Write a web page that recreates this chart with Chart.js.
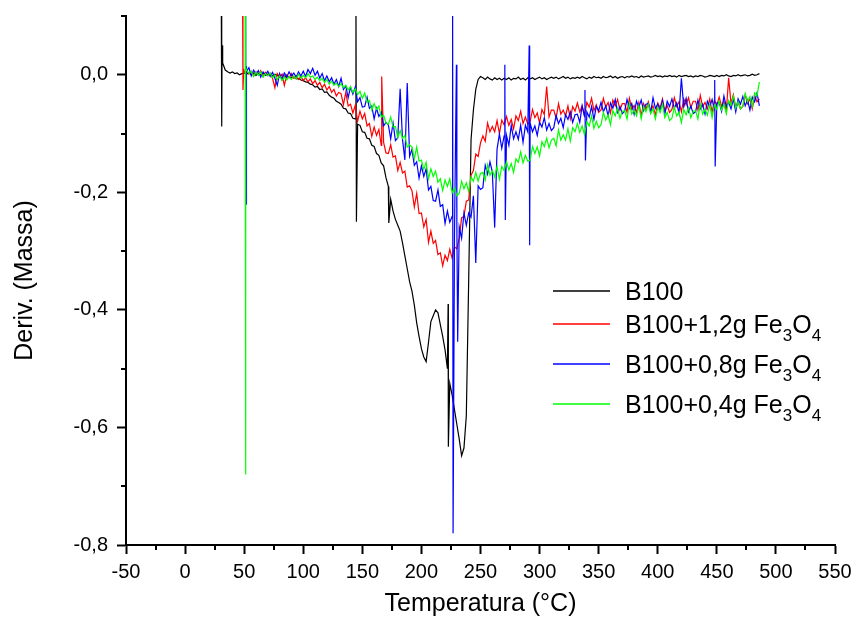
<!DOCTYPE html>
<html>
<head>
<meta charset="utf-8">
<title>DTG - B100 e Fe3O4</title>
<script src="https://cdn.jsdelivr.net/npm/chart.js@4.4.0/dist/chart.umd.min.js"></script>
<style>
  html, body { margin: 0; padding: 0; background: #fff; }
  #wrap { width: 856px; height: 619px; }
</style>
</head>
<body>
<div id="wrap"><canvas id="dtgChart" width="856" height="619"></canvas></div>
<script>
// Temperature grid (°C) shared by the four curves
const temps = [
  32, 34, 36, 38, 40, 42, 44, 46, 48, 50,
  52, 54, 56, 58, 60, 62, 64, 66, 68, 70,
  72, 74, 76, 78, 80, 82, 84, 86, 88, 90,
  92, 94, 96, 98, 100, 102, 104, 106, 108, 110,
  112, 114, 116, 118, 120, 122, 124, 126, 128, 130,
  132, 134, 136, 138, 140, 142, 144, 146, 148, 150,
  152, 154, 156, 158, 160, 162, 164, 166, 168, 170,
  172, 174, 176, 178, 180, 182, 184, 186, 188, 190,
  192, 194, 196, 198, 200, 202, 204, 206, 208, 210,
  212, 214, 216, 218, 220, 222, 224, 226, 228, 230,
  232, 234, 236, 238, 240, 242, 244, 246, 248, 250,
  252, 254, 256, 258, 260, 262, 264, 266, 268, 270,
  272, 274, 276, 278, 280, 282, 284, 286, 288, 290,
  292, 294, 296, 298, 300, 302, 304, 306, 308, 310,
  312, 314, 316, 318, 320, 322, 324, 326, 328, 330,
  332, 334, 336, 338, 340, 342, 344, 346, 348, 350,
  352, 354, 356, 358, 360, 362, 364, 366, 368, 370,
  372, 374, 376, 378, 380, 382, 384, 386, 388, 390,
  392, 394, 396, 398, 400, 402, 404, 406, 408, 410,
  412, 414, 416, 418, 420, 422, 424, 426, 428, 430,
  432, 434, 436, 438, 440, 442, 444, 446, 448, 450,
  452, 454, 456, 458, 460, 462, 464, 466, 468, 470,
  472, 474, 476, 478, 480, 482, 484, 486
];

// Deriv. (Massa) on the grid above
const b100 = [
  0.02, 0.008, 0.005, 0.003, 0.005, 0.002, 0.003, 0.0, 0.002, 0.003,
  0.001, 0.004, 0.0, 0.003, -0.001, 0.002, 0.0, 0.003, -0.001, 0.001,
  0.0, -0.002, 0.001, -0.001, -0.003, 0.0, -0.002, -0.004, -0.003, -0.005,
  -0.004, -0.007, -0.006, -0.009, -0.01, -0.012, -0.013, -0.016, -0.017, -0.021,
  -0.02, -0.025, -0.024, -0.03, -0.029, -0.035, -0.038, -0.04, -0.045, -0.047,
  -0.05, -0.057, -0.058, -0.065, -0.066, -0.074, -0.075, -0.084, -0.086, -0.097,
  -0.098, -0.108, -0.109, -0.12, -0.122, -0.134, -0.137, -0.15, -0.155, -0.175,
  -0.19, -0.212, -0.232, -0.246, -0.256, -0.266, -0.286, -0.308, -0.33, -0.352,
  -0.368, -0.392, -0.422, -0.445, -0.466, -0.48, -0.488, -0.455, -0.42, -0.41,
  -0.4, -0.405, -0.425, -0.445, -0.468, -0.5, -0.525, -0.545, -0.57, -0.595,
  -0.62, -0.648, -0.635, -0.58, -0.35, -0.11, -0.06, -0.025, -0.008, -0.003,
  -0.005, -0.008, -0.004, -0.007, -0.009, -0.005, -0.008, -0.006, -0.009, -0.006,
  -0.008, -0.005, -0.009, -0.006, -0.007, -0.004, -0.008, -0.006, -0.009, -0.005,
  -0.007, -0.005, -0.008, -0.006, -0.004, -0.007, -0.005, -0.008, -0.006, -0.004,
  -0.006, -0.004, -0.007, -0.005, -0.003, -0.006, -0.004, -0.007, -0.005, -0.006,
  -0.004, -0.006, -0.003, -0.005, -0.007, -0.004, -0.006, -0.003, -0.005, -0.004,
  -0.006, -0.003, -0.005, -0.004, -0.002, -0.005, -0.003, -0.006, -0.004, -0.003,
  -0.005, -0.003, -0.004, -0.002, -0.004, -0.003, -0.005, -0.002, -0.004, -0.003,
  -0.002, -0.004, -0.003, -0.001, -0.003, -0.002, -0.004, -0.002, -0.003, -0.001,
  -0.003, -0.002, -0.004, -0.001, -0.003, -0.002, -0.001, -0.003, -0.002, -0.004,
  -0.002, -0.003, -0.001, -0.002, -0.004, -0.003, -0.001, -0.002, -0.003, -0.001,
  -0.003, -0.001, -0.002, 0.0, -0.002, -0.003, -0.001, -0.002, 0.0, -0.002,
  -0.001, 0.0, -0.002, -0.001, 0.001, -0.001, 0.0, 0.002
];

const fe12 = [
  null, null, null, null, null, null, null, null, null, 0.004,
  0.008, 0.001, 0.006, -0.002, 0.005, 0.0, 0.007, -0.003, 0.004, -0.001,
  0.003, -0.006, -0.022, 0.002, -0.004, 0.001, -0.018, 0.0, -0.005, 0.002,
  -0.006, -0.002, -0.008, -0.003, -0.01, -0.005, -0.012, -0.007, -0.015, -0.01,
  -0.018, -0.013, -0.022, -0.016, -0.026, -0.02, -0.03, -0.025, -0.036, -0.03,
  -0.032, -0.051, -0.03, -0.053, -0.05, -0.065, -0.052, -0.079, -0.062, -0.075,
  -0.066, -0.087, -0.083, -0.105, -0.089, -0.103, -0.093, -0.12, -0.115, -0.133,
  -0.134, -0.119, -0.14, -0.138, -0.163, -0.149, -0.167, -0.164, -0.191, -0.189,
  -0.197, -0.225, -0.202, -0.236, -0.235, -0.259, -0.246, -0.285, -0.266, -0.287,
  -0.282, -0.306, -0.303, -0.325, -0.307, -0.316, -0.297, -0.312, -0.293, -0.296,
  -0.278, -0.243, -0.241, -0.215, -0.213, -0.171, -0.163, -0.135, -0.139, -0.116,
  -0.104, -0.113, -0.082, -0.097, -0.088, -0.097, -0.078, -0.1, -0.077, -0.085,
  -0.071, -0.086, -0.076, -0.092, -0.07, -0.078, -0.062, -0.083, -0.072, -0.084,
  -0.08, -0.059, -0.073, -0.065, -0.082, -0.059, -0.068, -0.02, -0.072, -0.06,
  -0.06, -0.074, -0.049, -0.067, -0.06, -0.07, -0.053, -0.075, -0.054, -0.062,
  -0.048, -0.063, -0.053, -0.069, -0.047, -0.055, -0.04, -0.061, -0.051, -0.064,
  -0.06, -0.04, -0.055, -0.047, -0.065, -0.043, -0.053, -0.042, -0.06, -0.049,
  -0.049, -0.064, -0.04, -0.059, -0.052, -0.064, -0.047, -0.07, -0.049, -0.059,
  -0.046, -0.062, -0.053, -0.069, -0.048, -0.056, -0.041, -0.062, -0.052, -0.064,
  -0.059, -0.039, -0.054, -0.046, -0.063, -0.041, -0.051, -0.039, -0.056, -0.045,
  -0.045, -0.06, -0.035, -0.054, -0.047, -0.058, -0.041, -0.064, -0.043, -0.052,
  -0.038, -0.054, -0.045, -0.062, -0.005, -0.049, -0.034, -0.056, -0.046, -0.058,
  -0.054, -0.034, -0.049, -0.041, -0.058, -0.036, -0.046, -0.041
];

const fe08 = [
  null, null, null, null, null, null, null, null, null, null,
  0.006, 0.012, -0.002, 0.008, 0.001, 0.007, -0.004, 0.005, 0.0, 0.006,
  -0.003, 0.004, -0.006, -0.018, 0.002, -0.008, 0.003, -0.004, 0.005, -0.002,
  0.003, -0.004, 0.005, -0.002, 0.006, -0.003, 0.009, 0.002, 0.011, -0.001,
  0.006, -0.006, 0.002, -0.01, -0.002, -0.012, -0.005, -0.016, -0.008, -0.02,
  -0.006, -0.025, -0.019, -0.039, -0.021, -0.033, -0.021, -0.046, -0.039, -0.055,
  -0.054, -0.038, -0.057, -0.053, -0.075, -0.057, -0.071, -0.064, -0.087, -0.081,
  -0.085, -0.109, -0.082, -0.112, -0.107, -0.024, -0.11, -0.145, -0.014, -0.139,
  -0.127, -0.154, -0.148, -0.176, -0.155, -0.173, -0.16, -0.196, -0.19, -0.214,
  -0.215, -0.196, -0.224, -0.221, -0.253, -0.232, -0.251, -0.241, -0.269, -0.259,
  -0.259, -0.278, -0.235, -0.256, -0.235, -0.242, -0.206, -0.32, -0.189, -0.195,
  -0.192, -0.154, -0.169, -0.148, -0.165, -0.26, -0.127, -0.101, -0.125, -0.104,
  -0.103, -0.12, -0.086, -0.109, -0.097, -0.11, -0.086, -0.115, -0.086, -0.097,
  -0.082, -0.097, -0.087, -0.103, -0.081, -0.089, -0.073, -0.094, -0.083, -0.095,
  -0.09, -0.069, -0.083, -0.074, -0.09, -0.068, -0.076, -0.063, -0.081, -0.068,
  -0.067, -0.081, -0.053, -0.071, -0.063, -0.072, -0.054, -0.076, -0.054, -0.061,
  -0.047, -0.063, -0.053, -0.07, -0.048, -0.057, -0.042, -0.064, -0.054, -0.066,
  -0.062, -0.042, -0.057, -0.049, -0.067, -0.045, -0.055, -0.043, -0.061, -0.05,
  -0.049, -0.064, -0.039, -0.057, -0.05, -0.061, -0.044, -0.067, -0.045, -0.054,
  -0.041, -0.057, -0.048, -0.066, -0.006, -0.055, -0.04, -0.063, -0.053, -0.066,
  -0.063, -0.043, -0.058, -0.05, -0.067, -0.045, -0.054, -0.042, -0.06, -0.048,
  -0.047, -0.062, -0.036, -0.054, -0.047, -0.058, -0.041, -0.063, -0.041, -0.05,
  -0.037, -0.053, -0.043, -0.06, -0.038, -0.046, -0.031, -0.053
];

const fe04 = [
  null, null, null, null, null, null, null, null, null, null,
  0.008, 0.002, 0.006, -0.003, 0.004, -0.001, 0.005, -0.004, 0.002, -0.002,
  0.003, -0.005, 0.0, -0.008, -0.002, -0.01, -0.004, -0.009, -0.003, -0.008,
  -0.002, -0.007, 0.001, -0.006, -0.001, -0.005, 0.002, -0.004, -0.002, -0.008,
  -0.004, -0.01, -0.006, -0.013, -0.008, -0.016, -0.011, -0.018, -0.014, -0.02,
  -0.015, -0.022, -0.018, -0.026, -0.02, -0.03, -0.024, -0.034, -0.028, -0.04,
  -0.031, -0.046, -0.044, -0.06, -0.049, -0.059, -0.053, -0.072, -0.069, -0.082,
  -0.084, -0.072, -0.089, -0.088, -0.107, -0.095, -0.108, -0.103, -0.123, -0.119,
  -0.123, -0.143, -0.123, -0.147, -0.145, -0.161, -0.149, -0.177, -0.16, -0.173,
  -0.164, -0.183, -0.177, -0.197, -0.179, -0.19, -0.177, -0.201, -0.192, -0.206,
  -0.202, -0.181, -0.194, -0.184, -0.199, -0.174, -0.181, -0.166, -0.181, -0.168,
  -0.166, -0.179, -0.153, -0.171, -0.163, -0.174, -0.156, -0.178, -0.156, -0.163,
  -0.148, -0.162, -0.151, -0.166, -0.143, -0.149, -0.131, -0.15, -0.137, -0.147,
  -0.145, -0.122, -0.134, -0.123, -0.138, -0.114, -0.122, -0.108, -0.124, -0.111,
  -0.108, -0.121, -0.094, -0.111, -0.102, -0.111, -0.092, -0.113, -0.09, -0.097,
  -0.083, -0.098, -0.087, -0.102, -0.08, -0.087, -0.07, -0.091, -0.079, -0.09,
  -0.085, -0.064, -0.077, -0.068, -0.085, -0.061, -0.07, -0.057, -0.074, -0.062,
  -0.061, -0.075, -0.049, -0.067, -0.06, -0.07, -0.053, -0.075, -0.054, -0.063,
  -0.05, -0.066, -0.058, -0.075, -0.055, -0.064, -0.05, -0.073, -0.064, -0.078,
  -0.074, -0.055, -0.07, -0.063, -0.081, -0.059, -0.068, -0.056, -0.073, -0.062,
  -0.061, -0.075, -0.049, -0.067, -0.059, -0.069, -0.051, -0.073, -0.051, -0.059,
  -0.045, -0.06, -0.05, -0.066, -0.044, -0.052, -0.036, -0.057, -0.046, -0.058,
  -0.053, -0.032, -0.046, -0.037, -0.054, -0.031, -0.036, -0.012
];

// narrow spikes that fall between grid temperatures: [T, value]
const b100Spikes = [[30.6, 0.15], [31.0, -0.088], [31.3, 0.05], [31.6, 0.025],
  [144.6, 0.15], [145.0, -0.25], [172.4, -0.252], [222.6, -0.39], [222.8, -0.633]];
const fe12Spikes = [[48.6, 0.15], [49.0, -0.026], [49.6, 0.01], [166.4, -0.003]];
const fe08Spikes = [[51.2, 0.15], [51.6, -0.22], [51.9, 0.015], [226.4, 0.15], [226.8, -0.78],
  [229.6, 0.017], [230.7, -0.454], [270.6, 0.017], [271.0, -0.247], [291.2, 0.05], [291.6, -0.29],
  [338.4, -0.026], [338.8, -0.146], [448.2, -0.009], [448.6, -0.156]];
const fe04Spikes = [[50.8, 0.15], [51.1, -0.68], [51.5, 0.012]];

const seriesNames = ['B100', 'B100+1,2g Fe₃O₄', 'B100+0,8g Fe₃O₄', 'B100+0,4g Fe₃O₄'];
const seriesColors = ['#000000', '#ff0000', '#0000ff', '#00ff00'];

const yTicks = [-0.8, -0.6, -0.4, -0.2, 0.0];
const xMinor = [-25, 25, 75, 125, 175, 225, 275, 325, 375, 425, 475, 525];
const yMinor = [-0.7, -0.5, -0.3, -0.1, 0.1];

function buildPoints(values, spikes) {
  const pts = [];
  temps.forEach((t, i) => {
    if (values[i] !== null) pts.push({ x: t, y: values[i] });
  });
  spikes.forEach(s => pts.push({ x: s[0], y: s[1] }));
  pts.sort((a, b) => a.x - b.x);
  return pts;
}

// minor tick marks on both axes
const minorTicks = {
  id: 'minorTicks',
  afterDraw(chart) {
    const { ctx, chartArea, scales } = chart;
    ctx.save();
    ctx.strokeStyle = '#000';
    ctx.lineWidth = 2;
    ctx.beginPath();
    xMinor.forEach(v => {
      const px = Math.round(scales.x.getPixelForValue(v));
      ctx.moveTo(px, chartArea.bottom);
      ctx.lineTo(px, chartArea.bottom + 5);
    });
    yMinor.forEach(v => {
      const py = Math.round(scales.y.getPixelForValue(v));
      ctx.moveTo(chartArea.left, py);
      ctx.lineTo(chartArea.left - 5, py);
    });
    ctx.stroke();
    ctx.restore();
  }
};

// legend with subscripts (Fe3O4)
const SUBS = '₀₁₂₃₄₅₆₇₈₉';
const legendBaselines = [300, 333, 373, 413];
const subLegend = {
  id: 'subLegend',
  afterDraw(chart) {
    const ctx = chart.ctx;
    ctx.save();
    ctx.setLineDash([]);
    ctx.textBaseline = 'alphabetic';
    ctx.textAlign = 'left';
    chart.data.datasets.forEach((ds, i) => {
      const base = legendBaselines[i];
      ctx.strokeStyle = seriesColors[i];
      ctx.lineWidth = 1.6;
      ctx.beginPath();
      ctx.moveTo(553, base - 9);
      ctx.lineTo(610, base - 9);
      ctx.stroke();
      ctx.fillStyle = '#000';
      let x = 625;
      const runs = ds.label.match(/[₀-₉]+|[^₀-₉]+/g);
      runs.forEach(run => {
        if (SUBS.indexOf(run[0]) >= 0) {
          const txt = run.split('').map(c => SUBS.indexOf(c)).join('');
          ctx.font = '17px "Liberation Sans", Arial, sans-serif';
          ctx.fillText(txt, x, base + 8);
          x += ctx.measureText(txt).width;
        } else {
          ctx.font = '25px "Liberation Sans", Arial, sans-serif';
          ctx.fillText(run, x, base);
          x += ctx.measureText(run).width;
        }
      });
    });
    ctx.restore();
  }
};

Chart.defaults.font.family = '"Liberation Sans", Arial, sans-serif';
Chart.defaults.color = '#000';

const ctx = document.getElementById('dtgChart').getContext('2d');
const dtgChart = new Chart(ctx, {
  type: 'line',
  data: {
    datasets: [
      { label: seriesNames[0], data: buildPoints(b100, b100Spikes), borderColor: seriesColors[0], order: 4 },
      { label: seriesNames[1], data: buildPoints(fe12, fe12Spikes), borderColor: seriesColors[1], order: 3 },
      { label: seriesNames[2], data: buildPoints(fe08, fe08Spikes), borderColor: seriesColors[2], order: 2 },
      { label: seriesNames[3], data: buildPoints(fe04, fe04Spikes), borderColor: seriesColors[3], order: 1 }
    ]
  },
  options: {
    responsive: false,
    animation: false,
    devicePixelRatio: 1,
    parsing: false,
    elements: {
      line: { borderWidth: 1.2, tension: 0, fill: false },
      point: { radius: 0, hoverRadius: 0 }
    },
    layout: { padding: { top: 16, right: 21, left: 0, bottom: 0 } },
    plugins: {
      legend: { display: false },
      tooltip: { enabled: false }
    },
    scales: {
      x: {
        type: 'linear',
        min: -50,
        max: 550,
        ticks: {
          stepSize: 50,
          autoSkip: false,
          maxRotation: 0,
          padding: 6,
          font: { size: 20 },
          callback: v => String(v)
        },
        grid: { drawOnChartArea: false, drawTicks: true, tickLength: 9, tickWidth: 2, tickColor: '#000' },
        border: { display: true, color: '#000', width: 2 },
        title: { display: true, text: 'Temperatura (°C)', font: { size: 25 }, padding: { top: 0, bottom: 0 } },
        afterFit: s => { s.height = 74; s.paddingLeft = 0; s.paddingRight = 0; }
      },
      y: {
        type: 'linear',
        min: -0.8,
        max: 0.1,
        afterBuildTicks: s => { s.ticks = yTicks.map(v => ({ value: v })); },
        ticks: {
          padding: 9,
          font: { size: 20 },
          callback: v => (Math.abs(v) < 1e-9 ? 0 : v).toFixed(1).replace('.', ',')
        },
        grid: { drawOnChartArea: false, drawTicks: true, tickLength: 9, tickWidth: 2, tickColor: '#000' },
        border: { display: true, color: '#000', width: 2 },
        title: { display: true, text: 'Deriv. (Massa)', font: { size: 25 }, padding: { top: 10, bottom: 0 } },
        afterFit: s => { s.width = 126; s.paddingTop = 0; s.paddingBottom = 0; }
      }
    }
  },
  plugins: [minorTicks, subLegend]
});
</script>
</body>
</html>
